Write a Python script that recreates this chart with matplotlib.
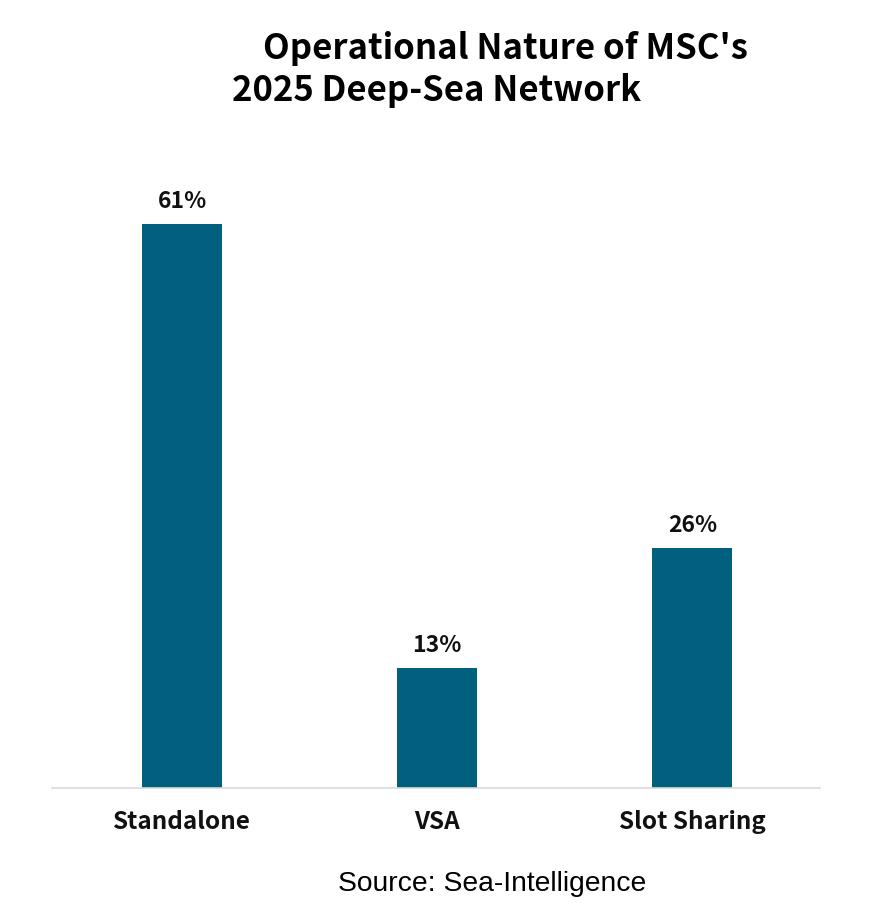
import matplotlib
matplotlib.use("Agg")
import matplotlib.pyplot as plt

categories = ["Standalone", "VSA", "Slot Sharing"]
values = [61, 13, 26]
value_labels = ["61%", "13%", "26%"]
title_lines = ["Operational Nature of MSC's", "2025 Deep-Sea Network"]
source_text = "Source: Sea-Intelligence"

BOLD_FONT = ["Noto Sans CJK KR", "DejaVu Sans"]

W, H = 869, 921
fig = plt.figure(figsize=(W / 100, H / 100), dpi=100)
ax = fig.add_axes([52 / W, 1 - 788 / H, (820 - 52) / W, (788 - 141) / H])

bar_color = "#02607F"
x = list(range(len(categories)))
bars = ax.bar(x, values, width=0.313, color=bar_color)
ax.set_xlim(-0.51, 2.5)
ax.set_ylim(0, 70)

for rect, lab in zip(bars, value_labels):
    ax.annotate(lab, (rect.get_x() + rect.get_width() / 2, rect.get_height()),
                xytext=(0, 8), textcoords="offset points", ha="center", va="bottom",
                fontsize=16.5, fontweight="bold", family=BOLD_FONT, color="#111111")

for s in ["top", "right", "left"]:
    ax.spines[s].set_visible(False)
ax.spines["bottom"].set_color("#d9d9d9")
ax.spines["bottom"].set_linewidth(1.2)
ax.set_yticks([])
ax.set_xticks(x)
ax.set_xticklabels(categories, fontsize=17.5, fontweight="bold", family=BOLD_FONT, color="#111111")
ax.tick_params(axis="x", length=0, pad=16)

fig.text(505 / W, 1 - 48 / H, title_lines[0], ha="center", va="center",
         fontsize=25, fontweight="bold", family=BOLD_FONT, color="#000000")
fig.text(232 / W, 1 - 91 / H, title_lines[1], ha="left", va="center",
         fontsize=25, fontweight="bold", family=BOLD_FONT, color="#000000")
fig.text(492 / W, 1 - 884 / H, source_text, ha="center", va="center",
         fontsize=20.3, family="Liberation Sans", color="#000000")

fig.savefig("out.png", dpi=100, facecolor="white")
